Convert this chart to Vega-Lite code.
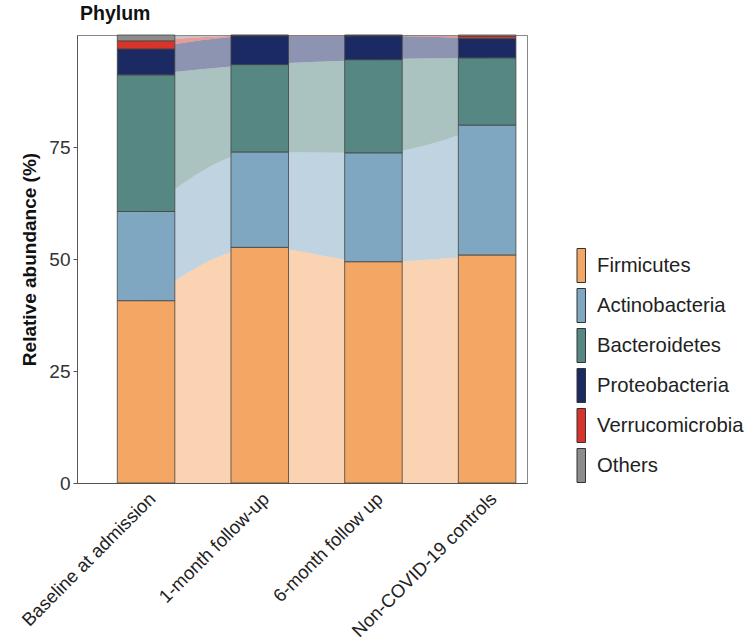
{
  "$schema": "https://vega.github.io/schema/vega-lite/v6.json",
  "width": 450,
  "height": 448,
  "autosize": "none",
  "padding": {"left": 77, "top": 35, "right": 221, "bottom": 160},
  "background": "white",
  "config": {
    "font": "Liberation Sans",
    "view": {"stroke": "#888", "strokeWidth": 1},
    "axis": {"grid": false}
  },
  "title": {"text": "Phylum", "anchor": "start", "frame": "group", "fontSize": 19.5, "fontWeight": "bold", "color": "#111", "offset": 10, "dx": 3},
  "data": {
    "values": [
      {"group": "Baseline at admission", "phylum": "Firmicutes", "abundance": 40.7, "rank": 1},
      {"group": "Baseline at admission", "phylum": "Actinobacteria", "abundance": 19.9, "rank": 2},
      {"group": "Baseline at admission", "phylum": "Bacteroidetes", "abundance": 30.5, "rank": 3},
      {"group": "Baseline at admission", "phylum": "Proteobacteria", "abundance": 5.8, "rank": 4},
      {"group": "Baseline at admission", "phylum": "Verrucomicrobia", "abundance": 1.8, "rank": 5},
      {"group": "Baseline at admission", "phylum": "Others", "abundance": 1.3, "rank": 6},
      {"group": "1-month follow-up", "phylum": "Firmicutes", "abundance": 52.6, "rank": 1},
      {"group": "1-month follow-up", "phylum": "Actinobacteria", "abundance": 21.3, "rank": 2},
      {"group": "1-month follow-up", "phylum": "Bacteroidetes", "abundance": 19.5, "rank": 3},
      {"group": "1-month follow-up", "phylum": "Proteobacteria", "abundance": 6.4, "rank": 4},
      {"group": "1-month follow-up", "phylum": "Verrucomicrobia", "abundance": 0.1, "rank": 5},
      {"group": "1-month follow-up", "phylum": "Others", "abundance": 0.1, "rank": 6},
      {"group": "6-month follow up", "phylum": "Firmicutes", "abundance": 49.4, "rank": 1},
      {"group": "6-month follow up", "phylum": "Actinobacteria", "abundance": 24.3, "rank": 2},
      {"group": "6-month follow up", "phylum": "Bacteroidetes", "abundance": 20.8, "rank": 3},
      {"group": "6-month follow up", "phylum": "Proteobacteria", "abundance": 5.3, "rank": 4},
      {"group": "6-month follow up", "phylum": "Verrucomicrobia", "abundance": 0.1, "rank": 5},
      {"group": "6-month follow up", "phylum": "Others", "abundance": 0.1, "rank": 6},
      {"group": "Non-COVID-19 controls", "phylum": "Firmicutes", "abundance": 50.9, "rank": 1},
      {"group": "Non-COVID-19 controls", "phylum": "Actinobacteria", "abundance": 29.0, "rank": 2},
      {"group": "Non-COVID-19 controls", "phylum": "Bacteroidetes", "abundance": 15.0, "rank": 3},
      {"group": "Non-COVID-19 controls", "phylum": "Proteobacteria", "abundance": 4.3, "rank": 4},
      {"group": "Non-COVID-19 controls", "phylum": "Verrucomicrobia", "abundance": 0.5, "rank": 5},
      {"group": "Non-COVID-19 controls", "phylum": "Others", "abundance": 0.3, "rank": 6}
    ]
  },
  "encoding": {
    "y": {
      "field": "abundance",
      "type": "quantitative",
      "stack": "zero",
      "scale": {"domain": [0, 100], "nice": false},
      "title": "Relative abundance (%)",
      "axis": {
        "values": [0, 25, 50, 75],
        "labelFontSize": 19,
        "labelColor": "#333",
        "titleFontSize": 19,
        "titleFontWeight": "bold",
        "titleColor": "#111",
        "domainColor": "#555",
        "tickColor": "#555",
        "tickSize": 4,
        "labelPadding": 3,
        "titlePadding": 9
      }
    },
    "color": {
      "field": "phylum",
      "type": "nominal",
      "scale": {
        "domain": ["Firmicutes", "Actinobacteria", "Bacteroidetes", "Proteobacteria", "Verrucomicrobia", "Others"],
        "range": ["#F4A765", "#7FA7C2", "#578782", "#1B2A63", "#D8342B", "#8C8C8C"]
      },
      "legend": {
        "title": null,
        "orient": "none",
        "legendX": 474,
        "legendY": 213,
        "padding": 0,
        "symbolType": "M0.5,-1 H1 V1 H0.5 Z",
        "symbolSize": 1156,
        "symbolStrokeColor": "#333",
        "symbolStrokeWidth": 1,
        "symbolOpacity": 1,
        "labelFontSize": 20.3,
        "labelColor": "#222",
        "labelOffset": 11,
        "labelLimit": 0,
        "rowPadding": 1
      }
    },
    "order": {"field": "rank", "type": "quantitative", "sort": "ascending"}
  },
  "layer": [
    {
      "mark": {"type": "area", "interpolate": "monotone", "opacity": 0.5},
      "encoding": {
        "x": {
          "field": "group",
          "type": "nominal",
          "bandPosition": 0.5,
          "scale": {"domain": ["Baseline at admission", "1-month follow-up", "6-month follow up", "Non-COVID-19 controls"], "paddingInner": 0.494, "paddingOuter": 0.226, "align": 0.784},
          "title": null,
          "axis": {"labelAngle": -45, "labelAlign": "right", "labelBaseline": "top", "labelFontSize": 18.5, "labelColor": "#222", "labelLimit": 0, "ticks": false, "labelPadding": 6, "domainColor": "#555"}
        }
      }
    },
    {
      "mark": {"type": "bar", "stroke": "#444", "strokeWidth": 0.8},
      "encoding": {
        "x": {
          "field": "group",
          "type": "nominal",
          "scale": {"domain": ["Baseline at admission", "1-month follow-up", "6-month follow up", "Non-COVID-19 controls"], "paddingInner": 0.494, "paddingOuter": 0.226, "align": 0.784},
          "title": null,
          "axis": {"labelAngle": -45, "labelAlign": "right", "labelBaseline": "top", "labelFontSize": 18.5, "labelColor": "#222", "labelLimit": 0, "ticks": false, "labelPadding": 6, "domainColor": "#555"}
        }
      }
    }
  ]
}
